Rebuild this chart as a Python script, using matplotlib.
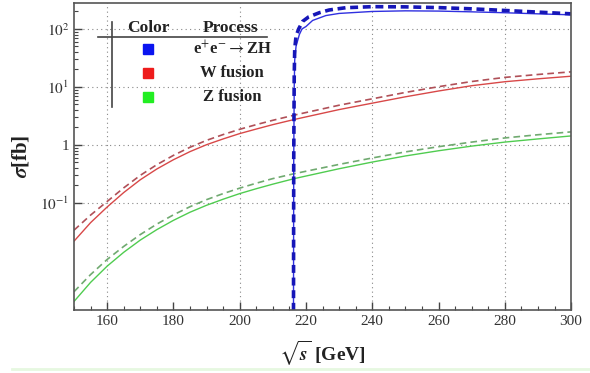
import numpy as np
import matplotlib as mpl
import matplotlib.pyplot as plt
from matplotlib.lines import Line2D
from matplotlib.ticker import FixedLocator, FixedFormatter, MultipleLocator

mpl.rcParams["mathtext.fontset"] = "stix"
mpl.rcParams["font.family"] = ["Liberation Serif", "DejaVu Serif"]

# e+e- -> ZH (threshold near 216 GeV)
zh_x = [216.2, 216.3, 216.45, 216.6, 217.0, 218.0, 218.8, 220.0, 222.0, 226.0,
        230.0, 240.0, 250.0, 260.0, 270.0, 280.0, 290.0, 300.0]
zh_solid = [1e-4, 0.5, 10, 29, 50, 80, 100, 110, 140, 170,
            185, 200, 205, 203, 197, 190, 182, 175]
zh_x_d = [216.2, 216.3, 216.45, 216.6, 217.0, 217.8, 219.0, 220.8, 224.0, 227.0,
          232.0, 240.0, 250.0, 260.0, 270.0, 280.0, 290.0, 300.0]
zh_dashed = [1e-4, 0.5, 15, 45, 75, 100, 135, 161, 190, 212,
             232, 242, 240, 233, 222, 208, 195, 182]

# W and Z fusion
fus_x = [150, 155, 160, 165, 170, 175, 180, 185, 190, 195, 200, 205, 210, 216.5,
         230, 240, 250, 260, 270, 280, 290, 300]
w_solid = [0.0219, 0.0457, 0.0851, 0.151, 0.251, 0.385, 0.556, 0.767, 1.01, 1.27, 1.57,
           1.88, 2.24, 2.75, 4.07, 5.25, 6.76, 8.51, 10.5, 12.3, 13.8, 15.3]
w_dashed = [0.0339, 0.0617, 0.106, 0.182, 0.299, 0.457, 0.661, 0.912, 1.20, 1.51, 1.86,
            2.24, 2.66, 3.27, 4.84, 6.24, 8.04, 10.1, 12.4, 14.6, 16.4, 18.2]
z_solid = [0.00200, 0.00427, 0.00813, 0.0141, 0.0229, 0.0347, 0.0501, 0.0692, 0.0912,
           0.116, 0.145, 0.176, 0.211, 0.263, 0.389, 0.507, 0.646, 0.794, 0.955, 1.12,
           1.27, 1.43]
z_dashed = [0.00295, 0.00582, 0.0106, 0.0178, 0.0285, 0.0432, 0.0624, 0.0861, 0.114,
            0.145, 0.180, 0.219, 0.263, 0.320, 0.462, 0.596, 0.759, 0.933, 1.12, 1.32,
            1.50, 1.68]

y_major = [0.1, 1, 10, 100]
y_labels = ["$10^{-1}$", "1", "$10^{1}$", "$10^{2}$"]
x_grid = [160, 200, 240, 280]

legend_rows = [("e$^{+}$e$^{-}$$\\rightarrow$ZH", "#0a14f0"),
               ("W fusion", "#ee1c1c"),
               ("Z fusion", "#22ee22")]

fig = plt.figure(figsize=(5.9, 3.73), dpi=100)
ax = fig.add_axes([0.1254, 0.169, 0.8426, 0.823])

for gx in x_grid:
    ax.axvline(gx, color="#888888", lw=0.8, ls=(0, (1, 3)), zorder=0)
for gy in y_major:
    ax.axhline(gy, color="#888888", lw=0.8, ls=(0, (1, 3)), zorder=0)

ax.plot(fus_x, w_solid, color="#d84848", lw=1.0)
ax.plot(fus_x, w_dashed, color="#b05058", lw=1.2, ls=(0, (4, 2.5)))
ax.plot(fus_x, z_solid, color="#50cc50", lw=1.0)
ax.plot(fus_x, z_dashed, color="#70aa70", lw=1.2, ls=(0, (4, 2.5)))
ax.plot(zh_x, zh_solid, color="#3030e0", lw=1.0)
ax.plot(zh_x_d, zh_dashed, color="#1616b8", lw=2.6, ls=(0, (2.2, 1.3)))

ax.set_xlim(150, 300)
ax.set_yscale("log")
ax.set_ylim(0.00143, 280)

ax.xaxis.set_major_locator(MultipleLocator(20))
ax.xaxis.set_minor_locator(MultipleLocator(5))
ax.yaxis.set_major_locator(FixedLocator(y_major))
ax.yaxis.set_major_formatter(FixedFormatter(y_labels))
minors = [m * 10.0 ** k for k in range(-1, 3) for m in range(2, 10) if m * 10.0 ** k < 280]
ax.yaxis.set_minor_locator(FixedLocator(minors))
ax.yaxis.set_minor_formatter(FixedFormatter([]))

ax.tick_params(which="both", direction="in", top=False, right=False,
               colors="#444444", labelcolor="#333333", labelsize=11)
ax.tick_params(which="major", length=6, width=1)
ax.tick_params(which="minor", length=3, width=0.8)
for sp in ax.spines.values():
    sp.set_color("#555555")
    sp.set_linewidth(1.2)

ax.set_xlabel(r"$\sqrt{\mathbfit{s}}$ [GeV]", fontsize=14, fontweight="bold",
              color="#222222", labelpad=8)
ax.set_ylabel(r"$\mathbfit{\sigma}$[fb]", fontsize=15, fontweight="bold",
              color="#222222", labelpad=6)

# table-style legend
tr = ax.transAxes
ax.add_line(Line2D([0.0765, 0.0765], [0.661, 0.938], transform=tr, color="#444444", lw=1.2))
ax.add_line(Line2D([0.048, 0.388], [0.889, 0.889], transform=tr, color="#444444", lw=1.2))
ax.text(0.149, 0.919, "Color", transform=tr, ha="center", va="center",
        fontsize=12.5, fontweight="bold", color="#222222")
ax.text(0.314, 0.919, "Process", transform=tr, ha="center", va="center",
        fontsize=12.5, fontweight="bold", color="#222222")
for i, (name, col) in enumerate(legend_rows):
    yy = 0.850 - i * 0.078
    ax.plot([0.149], [yy], marker="s", ms=7, color=col, transform=tr, clip_on=False)
    ax.text(0.318, yy, name, transform=tr, ha="center", va="center",
            fontsize=12, fontweight="bold", color="#222222")

fig.add_artist(Line2D([0.02, 1.0], [0.012, 0.012], transform=fig.transFigure,
                      color="#e6f8e0", lw=2))

fig.savefig("out.png", dpi=100)
